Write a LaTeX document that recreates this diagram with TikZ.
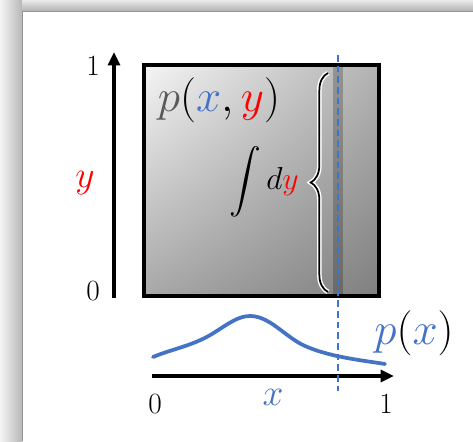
\documentclass[tikz,border=0pt]{standalone}
\usepackage{amsmath}
\usetikzlibrary{arrows.meta,decorations.pathreplacing,shadings}
\definecolor{pxblue}{RGB}{68,114,196}
\definecolor{pyred}{RGB}{255,0,0}
\definecolor{pgray}{RGB}{89,89,89}
\tikzset{every picture/.style={line width=0.75pt}}
\tikzset{
  axisline/.style={line width=2.4pt,-{Triangle[length=10pt,width=9pt]}},
  numlbl/.style={inner sep=0.75pt,font=\fontsize{22}{26}\selectfont},
  axlbl/.style={inner sep=0.75pt,font=\fontsize{24.88}{28}\selectfont,scale=1.13},
  biglbl/.style={inner sep=0pt,font=\fontsize{24.88}{28}\selectfont,scale=1.36},
  cutline/.style={pxblue,line width=1.5pt,dash pattern={on 5pt off 3pt}},
  bracepath/.style={decorate,decoration={brace,amplitude=13pt}},
}

\begin{document}
\begin{tikzpicture}[x=0.75pt,y=0.75pt,yscale=-1,xscale=1]
\useasboundingbox (0,0) rectangle (473,441);

%Window frame
\shade [left color=black!4, right color=black!28] (0,0) rectangle (22,441);
\shade [top color=black!8, bottom color=black!30] (22,0) rectangle (473,11);
\fill [white] (22,11) rectangle (473,441);
\draw [black!42,line width=1.2pt] (22.5,441) -- (22.5,11.5) -- (473,11.5);

%Shape: Square p(x,y)
\coordinate (sqnw) at (144,65);
\coordinate (sqse) at (379,296);
\shade [upper left=black!4, upper right=black!30, lower left=black!34, lower right=black!50] (sqnw) rectangle (sqse);
%Shape: Rectangle (slice)
\fill [black,fill opacity=0.22] (333,65) rectangle (343,296);
\draw [line width=2.4pt] (sqnw) rectangle (sqse);

%Brace
\coordinate (bracebot) at (328,292);
\coordinate (bracetop) at (328,73);
\draw [bracepath,white,line width=3.5pt] (bracebot) -- (bracetop);
\draw [bracepath,black,line width=1.3pt] (bracebot) -- (bracetop);

%Straight Lines (axes)
\coordinate (yfoot) at (114,298);
\coordinate (ytip) at (114,52);
\coordinate (xfoot) at (152,376);
\coordinate (xtip) at (394,376);
\draw [axisline] (yfoot) -- (ytip);
\draw [axisline] (xfoot) -- (xtip);

%Curve p(x)
\draw [pxblue,line width=2.8pt,line cap=round] (153,357) .. controls (172,349) and (192,346) .. (212,334) .. controls (228,324) and (238,316) .. (250,316) .. controls (270,316) and (285,337) .. (305,346) .. controls (330,357) and (360,360) .. (385,364);

%Dashed cut
\coordinate (cuttop) at (338,55);
\coordinate (cutbot) at (338,391);
\draw [cutline] (cuttop) -- (cutbot);

% Text Node
\node [numlbl] (ytopnum) at (93,66) {1};
\node [numlbl] (ybotnum) at (93,291) {0};
\node [axlbl] (ylbl) at (85,183) {$\color{pyred}y$};
\node [numlbl] (xzero) at (155,404) {0};
\node [numlbl] (xone) at (386,404) {1};
\node [axlbl] (xlbl) at (273,397) {$\color{pxblue}x$};
\node [biglbl] (pxy) at (219,100) {$\color{pgray}p\color{black}(\color{pxblue}x\color{black},\color{pyred}y\color{black})$};
\node [inner sep=0pt,font=\fontsize{22}{26}\selectfont,scale=1.15] (intdy) at (264,182) {$\displaystyle\int d{\color{pyred}y}$};
\node [biglbl] (px) at (414,333) {$\color{pxblue}p\color{black}(\color{pxblue}x\color{black})$};

\end{tikzpicture}
\end{document}
